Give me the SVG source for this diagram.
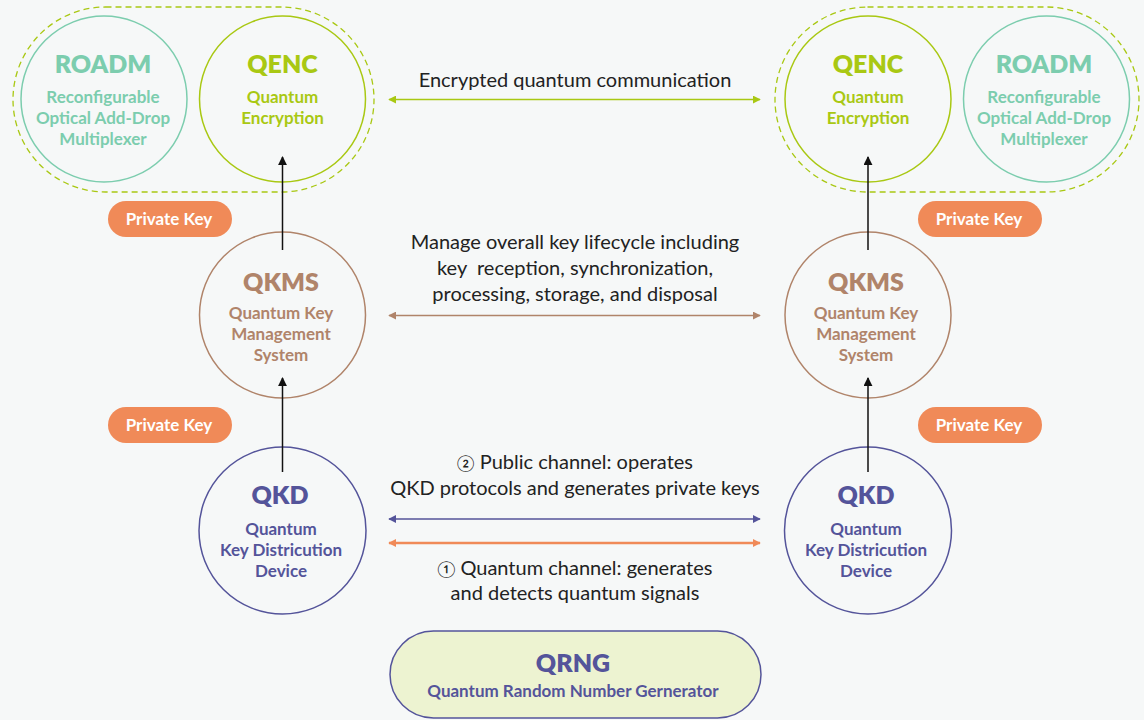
<svg xmlns="http://www.w3.org/2000/svg" width="1144" height="720" viewBox="0 0 1144 720">
<defs>
<style>
text{font-family:"Lato","Liberation Sans",sans-serif;text-anchor:middle}
.t{font-size:25px;font-weight:800}
.s{font-size:17px;font-weight:700}
.d{font-size:20px;font-weight:400;fill:#222}
.pk{font-size:17px;font-weight:700;fill:#fff}
.n{font-size:16px}
.roadm{fill:#7ccdae}.qenc{fill:#a9c813}.qkms{fill:#b0846a}.qkd{fill:#54549a}
.c{fill:none;stroke-width:1.5}
</style>
<marker id="ab" viewBox="0 0 10 10" refX="9" refY="5" markerWidth="9" markerHeight="9" markerUnits="userSpaceOnUse" orient="auto"><path d="M0,0L10,5L0,10z" fill="#111"/></marker>
<marker id="ag" viewBox="0 0 10 10" refX="9" refY="5" markerWidth="8" markerHeight="8" markerUnits="userSpaceOnUse" orient="auto-start-reverse"><path d="M0,0L10,5L0,10z" fill="#a9c813"/></marker>
<marker id="abr" viewBox="0 0 10 10" refX="9" refY="5" markerWidth="8" markerHeight="8" markerUnits="userSpaceOnUse" orient="auto-start-reverse"><path d="M0,0L10,5L0,10z" fill="#b0846a"/></marker>
<marker id="ap" viewBox="0 0 10 10" refX="9" refY="5" markerWidth="8" markerHeight="8" markerUnits="userSpaceOnUse" orient="auto-start-reverse"><path d="M0,0L10,5L0,10z" fill="#54549a"/></marker>
<marker id="ao" viewBox="0 0 10 10" refX="9" refY="5" markerWidth="8" markerHeight="8" markerUnits="userSpaceOnUse" orient="auto-start-reverse"><path d="M0,0L10,5L0,10z" fill="#f08a58"/></marker>
</defs>
<rect width="1144" height="720" fill="#f6f8f8"/>

<g id="group-left">
<rect x="13" y="7" width="361" height="185" rx="92.5" fill="none" stroke="#a9c813" stroke-width="1.3" stroke-dasharray="6,4"/>
</g>
<g id="group-right">
<rect x="775" y="7" width="364" height="185" rx="92.5" fill="none" stroke="#a9c813" stroke-width="1.3" stroke-dasharray="6,4"/>
</g>

<g id="roadm-left">
<circle cx="104" cy="99" r="83" class="c" stroke="#7ccdae"/>
<text x="103" y="73" class="t roadm">ROADM</text>
<text x="103" y="103" class="s roadm">Reconfigurable</text>
<text x="103" y="124" class="s roadm">Optical Add-Drop</text>
<text x="103" y="145" class="s roadm">Multiplexer</text>
</g>
<g id="qenc-left">
<circle cx="282.5" cy="99" r="83" class="c" stroke="#a9c813"/>
<text x="282.5" y="73" class="t qenc">QENC</text>
<text x="282.5" y="103" class="s qenc">Quantum</text>
<text x="282.5" y="124" class="s qenc">Encryption</text>
</g>
<g id="qenc-right">
<circle cx="868" cy="99" r="83" class="c" stroke="#a9c813"/>
<text x="868" y="73" class="t qenc">QENC</text>
<text x="868" y="103" class="s qenc">Quantum</text>
<text x="868" y="124" class="s qenc">Encryption</text>
</g>
<g id="roadm-right">
<circle cx="1046.5" cy="99" r="83" class="c" stroke="#7ccdae"/>
<text x="1044" y="73" class="t roadm">ROADM</text>
<text x="1044" y="103" class="s roadm">Reconfigurable</text>
<text x="1044" y="124" class="s roadm">Optical Add-Drop</text>
<text x="1044" y="145" class="s roadm">Multiplexer</text>
</g>

<g id="qkms-left">
<circle cx="282.5" cy="315" r="83" class="c" stroke="#b0846a"/>
<text x="281" y="291" class="t qkms">QKMS</text>
<text x="281" y="319" class="s qkms">Quantum Key</text>
<text x="281" y="340" class="s qkms">Management</text>
<text x="281" y="361" class="s qkms">System</text>
</g>
<g id="qkms-right">
<circle cx="868" cy="315" r="83" class="c" stroke="#b0846a"/>
<text x="866" y="291" class="t qkms">QKMS</text>
<text x="866" y="319" class="s qkms">Quantum Key</text>
<text x="866" y="340" class="s qkms">Management</text>
<text x="866" y="361" class="s qkms">System</text>
</g>

<g id="qkd-left">
<circle cx="282.5" cy="530.5" r="83.5" class="c" stroke="#54549a"/>
<text x="280" y="504" class="t qkd">QKD</text>
<text x="281" y="535" class="s qkd">Quantum</text>
<text x="281" y="556" class="s qkd">Key Districution</text>
<text x="281" y="577" class="s qkd">Device</text>
</g>
<g id="qkd-right">
<circle cx="868" cy="530.5" r="83.5" class="c" stroke="#54549a"/>
<text x="866" y="504" class="t qkd">QKD</text>
<text x="866" y="535" class="s qkd">Quantum</text>
<text x="866" y="556" class="s qkd">Key Districution</text>
<text x="866" y="577" class="s qkd">Device</text>
</g>

<g id="pk-left-top"><rect x="108" y="201" width="124" height="36" rx="18" fill="#f08a58"/><text x="169" y="225" class="pk">Private Key</text></g>
<g id="pk-left-bottom"><rect x="108" y="407" width="124" height="36" rx="18" fill="#f08a58"/><text x="169" y="431" class="pk">Private Key</text></g>
<g id="pk-right-top"><rect x="918" y="201" width="124" height="36" rx="18" fill="#f08a58"/><text x="979" y="225" class="pk">Private Key</text></g>
<g id="pk-right-bottom"><rect x="918" y="407" width="124" height="36" rx="18" fill="#f08a58"/><text x="979" y="431" class="pk">Private Key</text></g>

<g id="qrng">
<rect x="390" y="631" width="371" height="87" rx="43.5" fill="#edf3d1" stroke="#54549a" stroke-width="1.5"/>
<text x="573" y="672" class="t qkd">QRNG</text>
<text x="573" y="697" class="s qkd">Quantum Random Number Gernerator</text>
</g>

<g id="connectors" fill="none">
<line x1="282.5" y1="250" x2="282.5" y2="157" stroke="#111" stroke-width="1.5" marker-end="url(#ab)"/>
<line x1="282.5" y1="472" x2="282.5" y2="378" stroke="#111" stroke-width="1.5" marker-end="url(#ab)"/>
<line x1="868" y1="250" x2="868" y2="157" stroke="#111" stroke-width="1.5" marker-end="url(#ab)"/>
<line x1="868" y1="472" x2="868" y2="378" stroke="#111" stroke-width="1.5" marker-end="url(#ab)"/>
<line x1="389" y1="99.5" x2="760" y2="99.5" stroke="#a9c813" stroke-width="1.5" marker-start="url(#ag)" marker-end="url(#ag)"/>
<line x1="389" y1="315.5" x2="760" y2="315.5" stroke="#b0846a" stroke-width="1.5" marker-start="url(#abr)" marker-end="url(#abr)"/>
<line x1="389" y1="519" x2="760" y2="519" stroke="#54549a" stroke-width="1.5" marker-start="url(#ap)" marker-end="url(#ap)"/>
<line x1="389" y1="543" x2="760" y2="543" stroke="#f08a58" stroke-width="2.5" marker-start="url(#ao)" marker-end="url(#ao)"/>
</g>

<g id="labels">
<text x="575" y="87" class="d">Encrypted quantum communication</text>
<text x="575" y="249" class="d">Manage overall key lifecycle including</text>
<text x="575" y="275" class="d" xml:space="preserve">key  reception, synchronization,</text>
<text x="575" y="301" class="d">processing, storage, and disposal</text>
<text x="575" y="469" class="d"><tspan class="n">②</tspan> Public channel: operates</text>
<text x="575" y="495" class="d">QKD protocols and generates private keys</text>
<text x="575" y="575" class="d"><tspan class="n">①</tspan> Quantum channel: generates</text>
<text x="575" y="600" class="d">and detects quantum signals</text>
</g>
</svg>
